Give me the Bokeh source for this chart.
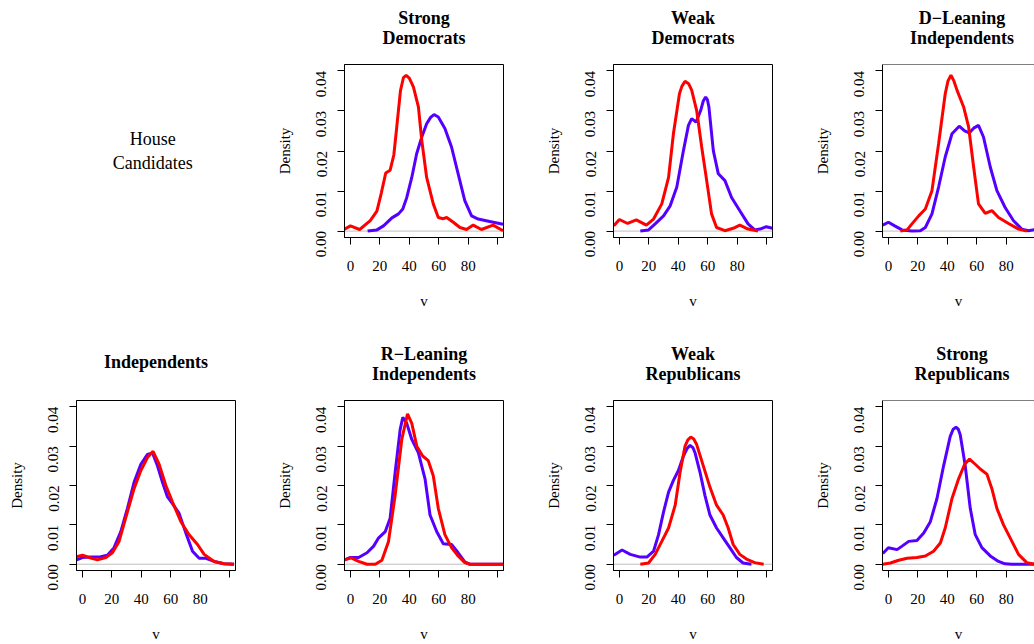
import math
from bokeh.plotting import figure
from bokeh.layouts import gridplot
from bokeh.models import FixedTicker, PrintfTickFormatter, Span
from bokeh.core.properties import value
from bokeh.embed import file_html
from bokeh.resources import INLINE

# ---------------- data ----------------
ROW_LABEL = "House\nCandidates"
TITLES = [["Strong", "Democrats"], ["Weak", "Democrats"], ["D\u2212Leaning", "Independents"],
          ["Independents"], ["R\u2212Leaning", "Independents"], ["Weak", "Republicans"],
          ["Strong", "Republicans"]]
X_LABEL = "v"
Y_LABEL = "Density"

X_TICKS = [0, 20, 40, 60, 80]
X_EXTRA_TICKS = [100]
Y_TICKS = [0.0, 0.01, 0.02, 0.03, 0.04]

# Strong Democrats
sd_blue_v = [11.7, 18, 22.5, 28.2, 32.7, 35.6, 38.3, 41.7, 45, 48.5, 51.8, 54.5, 56.8, 59.7, 64.2, 68.7, 73.2, 77.7, 82.3, 86.8, 94.6, 103.7]
sd_blue_d = [0, 0.0003, 0.0013, 0.0033, 0.0043, 0.0055, 0.0084, 0.0134, 0.0193, 0.0235, 0.0268, 0.0284, 0.0291, 0.0285, 0.0256, 0.021, 0.0143, 0.0076, 0.0038, 0.003, 0.0024, 0.0017]
sd_red_v = [-4, 0, 6.3, 13.5, 18, 21, 24, 27, 29.5, 31.5, 34, 36, 37.9, 40, 42.8, 46.2, 48.5, 51.8, 56.3, 59.7, 63.1, 65.4, 69.9, 74.4, 78.9, 83.4, 89, 96.9, 103.7]
sd_red_d = [0.0005, 0.0013, 0.0004, 0.0026, 0.005, 0.0095, 0.0145, 0.0152, 0.019, 0.026, 0.035, 0.0383, 0.0389, 0.0382, 0.036, 0.031, 0.0226, 0.0134, 0.0068, 0.0034, 0.0031, 0.0034, 0.0022, 0.0009, 0.0004, 0.0015, 0.0004, 0.0015, 0.0001]

# Weak Democrats
wd_blue_v = [14.2, 19.8, 24.3, 30, 34.5, 39, 43.5, 46.9, 49.1, 52.1, 55.2, 57, 58.6, 59.8, 60.8, 63.8, 67.2, 71.7, 76.2, 81.8, 87.4, 91.9, 95.5, 99.8, 104]
wd_blue_d = [0, 0.0003, 0.0018, 0.0038, 0.0063, 0.011, 0.0201, 0.0264, 0.0281, 0.0272, 0.0301, 0.0325, 0.0335, 0.0328, 0.031, 0.0201, 0.0143, 0.0126, 0.0084, 0.0051, 0.0018, 0.0003, 0.0005, 0.0011, 0.0007]
wd_red_v = [-3.8, 0, 5.6, 11.5, 18.3, 23.2, 28.8, 33.4, 36.7, 40.8, 42.5, 44.6, 47, 49.1, 52.5, 55.9, 59.3, 62.6, 66, 71.7, 77.3, 81.8, 87.4, 94.2]
wd_red_d = [0.0013, 0.0029, 0.0019, 0.0028, 0.0015, 0.003, 0.0068, 0.0134, 0.0243, 0.0343, 0.0362, 0.0374, 0.0368, 0.0352, 0.0301, 0.021, 0.0126, 0.0043, 0.0009, 0.0001, 0.0007, 0.0015, 0.0005, 0.0]

# D-Leaning Independents
dl_blue_v = [-3.8, 0, 4.3, 9.3, 16, 21.7, 25.1, 29.6, 34.1, 38.6, 43.2, 48.1, 51.8, 54.9, 57.9, 61.2, 64.6, 69.2, 73.7, 79.3, 85, 90.6, 95.1, 99.7]
dl_blue_d = [0.0015, 0.0022, 0.0013, 0.0003, 0.0, 0.0001, 0.0009, 0.0043, 0.011, 0.0185, 0.0243, 0.0262, 0.025, 0.0245, 0.0257, 0.0264, 0.0235, 0.016, 0.0101, 0.0059, 0.0026, 0.0005, 0.0001, 0.0004]
dl_red_v = [8.1, 12.7, 16, 20.6, 25.1, 29.6, 34.1, 38.6, 40.5, 42.5, 44.5, 46.6, 51.1, 54.5, 57.9, 61.2, 65.8, 70.3, 74.8, 81.6, 88.4, 94]
dl_red_d = [0.0, 0.0003, 0.0018, 0.0038, 0.0055, 0.0101, 0.0218, 0.0343, 0.0375, 0.0389, 0.0375, 0.0352, 0.031, 0.026, 0.016, 0.0068, 0.0044, 0.0051, 0.0034, 0.0019, 0.0005, 0.0]

# Independents
ind_blue_v = [-3.9, 0, 5.7, 12.5, 17, 21.5, 26.1, 30.6, 35.1, 39.7, 44.2, 47.6, 51, 54.4, 57.8, 61.2, 65.7, 70.3, 74.8, 79.3, 83.9, 89.5, 96.3, 103]
ind_blue_d = [0.0011, 0.0017, 0.0018, 0.0019, 0.0023, 0.0042, 0.0083, 0.0142, 0.0208, 0.0254, 0.0279, 0.0283, 0.025, 0.0208, 0.0171, 0.0154, 0.0129, 0.0079, 0.0033, 0.0015, 0.0015, 0.0007, 0.0001, 0.0]
ind_red_v = [-3.9, 0, 4.5, 10.2, 15.9, 20.4, 24.9, 30.6, 35.1, 39.7, 44.2, 48, 52.1, 56.7, 61.2, 66.9, 72.5, 78.2, 82.7, 89.5, 96.3, 103]
ind_red_d = [0.0019, 0.0023, 0.0017, 0.0011, 0.0017, 0.0029, 0.0058, 0.0133, 0.0192, 0.0238, 0.0271, 0.0287, 0.0254, 0.02, 0.0158, 0.0108, 0.0075, 0.005, 0.0025, 0.0007, 0.0001, 0.0]

# R-Leaning Independents
rl_blue_v = [-4, 0, 5.6, 11.3, 15.8, 19.2, 23.7, 27, 30.4, 33.8, 35.6, 38.3, 41.7, 46.2, 50.7, 54.1, 58.6, 63.1, 68.7, 73.2, 77.7, 81, 90, 103.7]
rl_blue_d = [0.0011, 0.0017, 0.0017, 0.0029, 0.0046, 0.0067, 0.0083, 0.0117, 0.0233, 0.0342, 0.0373, 0.0358, 0.0317, 0.0283, 0.0217, 0.0125, 0.0083, 0.0052, 0.005, 0.0029, 0.0006, 0.0, 0.0, 0.0]
rl_red_v = [-4, 0.5, 5.6, 11.3, 16.9, 21.4, 25.9, 30.4, 34.9, 38.8, 41.7, 45.1, 49.1, 52.9, 56.3, 59.7, 64.2, 68.7, 73.2, 77.7, 81.1, 90, 103.7]
rl_red_d = [0.0011, 0.0016, 0.0007, 0.0, 0.0, 0.001, 0.0058, 0.0175, 0.0317, 0.0382, 0.0358, 0.03, 0.0275, 0.0263, 0.0225, 0.0142, 0.0075, 0.0042, 0.0021, 0.0004, 0.0, 0.0, 0.0]

# Weak Republicans
wr_blue_v = [-3.8, 1.8, 7.4, 14.2, 18.7, 23.2, 26.6, 30, 33.4, 36.7, 40.1, 43.5, 46, 48, 50, 51.4, 54.8, 58.1, 61.5, 66, 70.5, 75, 79.5, 84, 89.7]
wr_blue_d = [0.0023, 0.0036, 0.0025, 0.0018, 0.0018, 0.0033, 0.0075, 0.0133, 0.0183, 0.0213, 0.0238, 0.0275, 0.0294, 0.0302, 0.0296, 0.0283, 0.0233, 0.0175, 0.0125, 0.0092, 0.0067, 0.0042, 0.0017, 0.0003, 0.0]
wr_red_v = [14.2, 19.8, 24.3, 28.8, 33.4, 37.9, 41.2, 44.6, 46.5, 48.5, 50.5, 52.5, 57, 61.5, 66, 70.5, 73.9, 77.3, 81.8, 86.3, 91.9, 98]
wr_red_d = [0.0, 0.0003, 0.0025, 0.0058, 0.0092, 0.015, 0.0233, 0.03, 0.0316, 0.0323, 0.0318, 0.0304, 0.025, 0.0196, 0.015, 0.0125, 0.0092, 0.005, 0.0025, 0.0013, 0.0004, 0.0]

# Strong Republicans
sr_blue_v = [-3.8, 0, 5.9, 9.3, 13.8, 19.4, 24, 28.5, 33, 37.5, 42, 44, 45.9, 47.5, 48.8, 52.2, 55.6, 59, 63.5, 69.2, 74.8, 79.3, 83.8, 99.5]
sr_blue_d = [0.0027, 0.0042, 0.0037, 0.0046, 0.0058, 0.006, 0.0079, 0.0108, 0.0167, 0.025, 0.0325, 0.0343, 0.0348, 0.0343, 0.0329, 0.025, 0.0142, 0.0075, 0.0042, 0.0021, 0.0007, 0.0001, 0.0, 0.0]
sr_red_v = [-3.8, 1.4, 7, 12.7, 19.4, 25.1, 30.7, 35.3, 38.6, 43.2, 47.7, 51.8, 55.1, 59, 62.4, 66.9, 70.3, 73.7, 78.2, 82.7, 88.4, 94, 99.7]
sr_red_d = [0.0, 0.0003, 0.001, 0.0015, 0.0017, 0.0021, 0.0033, 0.0054, 0.0092, 0.0167, 0.0217, 0.0254, 0.0267, 0.0254, 0.0242, 0.0229, 0.0192, 0.0142, 0.01, 0.0067, 0.0025, 0.0004, 0.0]

PANELS = [
    (sd_blue_v, sd_blue_d, sd_red_v, sd_red_d),
    (wd_blue_v, wd_blue_d, wd_red_v, wd_red_d),
    (dl_blue_v, dl_blue_d, dl_red_v, dl_red_d),
    (ind_blue_v, ind_blue_d, ind_red_v, ind_red_d),
    (rl_blue_v, rl_blue_d, rl_red_v, rl_red_d),
    (wr_blue_v, wr_blue_d, wr_red_v, wr_red_d),
    (sr_blue_v, sr_blue_d, sr_red_v, sr_red_d),
]

# ---------------- styling / layout ----------------
SERIF = "Liberation Serif"
BLUE = "#5500FF"
RED = "#FF0000"
COL_W = [268, 269, 269, 228]
HEAD_H = 62                   # header strip holding the panel title
TOP_PAD = 2                   # gap between header strip and frame top
BORDER_L = 76
FRAME_W = 159
FRAME_H = 173
BOTTOM_B = [99, 71]           # bottom border of each row's plot figure
X_LO, X_HI = -4.0, 104.0
Y_LO, Y_HI = -0.0016, 0.0416
TITLE_Y_2 = [45, 25]          # header-strip positions of two-line titles
TITLE_Y_1 = 36.5              # header-strip position of a one-line title


def col_geometry(col):
    w = COL_W[col]
    last = col == 3
    right_border = 0 if last else w - BORDER_L - FRAME_W
    x_hi = X_LO + (w - BORDER_L) * (X_HI - X_LO) / FRAME_W if last else X_HI
    return w, right_border, x_hi


def style_axes(p):
    for ax in (p.xaxis[0], p.yaxis[0]):
        ax.axis_line_color = "black"
        ax.major_tick_line_color = "black"
        ax.minor_tick_line_color = "black"
        ax.major_tick_in = 0
        ax.major_tick_out = 7
        ax.minor_tick_in = 0
        ax.minor_tick_out = 7
        ax.major_label_text_font = SERIF
        ax.major_label_text_font_size = "15px"
        ax.major_label_text_color = "black"
        ax.axis_label_text_font = SERIF
        ax.axis_label_text_font_size = "15px"
        ax.axis_label_text_font_style = "normal"
        ax.axis_label_text_color = "black"
    p.xaxis[0].ticker = FixedTicker(ticks=X_TICKS, minor_ticks=X_EXTRA_TICKS)
    p.xaxis[0].major_label_standoff = 16
    p.xaxis[0].axis_label = X_LABEL
    p.xaxis[0].axis_label_standoff = 19
    p.yaxis[0].ticker = FixedTicker(ticks=Y_TICKS, minor_ticks=[])
    p.yaxis[0].formatter = PrintfTickFormatter(format="%.2f")
    p.yaxis[0].major_label_orientation = math.pi / 2
    p.yaxis[0].major_label_standoff = 16
    p.yaxis[0].axis_label = Y_LABEL
    p.yaxis[0].axis_label_standoff = 16


def make_header(idx, col):
    w, right_border, x_hi = col_geometry(col)
    p = figure(width=w, height=HEAD_H, x_range=(X_LO, x_hi), y_range=(0, HEAD_H),
               x_axis_type=None, y_axis_type=None, title=None,
               output_backend="svg", toolbar_location=None,
               min_border_left=BORDER_L, min_border_right=right_border,
               min_border_top=0, min_border_bottom=0,
               background_fill_color="white", border_fill_color="white")
    p.outline_line_color = None
    p.xgrid.visible = False
    p.ygrid.visible = False
    if idx is None:
        return p
    xc = (X_LO + X_HI) / 2
    lines = TITLES[idx]
    ys = TITLE_Y_2 if len(lines) == 2 else [TITLE_Y_1]
    p.text(x=[xc] * len(lines), y=ys, text=lines, text_align="center", text_baseline="alphabetic",
           text_font=value(SERIF), text_font_size="18px", text_font_style="bold", text_color="black")
    return p


def make_panel(idx, col, row):
    bv, bd, rv, rd = PANELS[idx]
    w, right_border, x_hi = col_geometry(col)
    h = TOP_PAD + FRAME_H + BOTTOM_B[row]
    last = col == 3
    p = figure(width=w, height=h, x_range=(X_LO, x_hi), y_range=(Y_LO, Y_HI),
               output_backend="svg", toolbar_location=None, title=None,
               min_border_left=BORDER_L, min_border_right=right_border,
               min_border_top=TOP_PAD, min_border_bottom=BOTTOM_B[row],
               background_fill_color="white", border_fill_color="white")
    p.xgrid.visible = False
    p.ygrid.visible = False
    if last:
        p.outline_line_color = None
        p.add_layout(Span(location=Y_HI, dimension="width", line_color="black", line_width=1))
    else:
        p.outline_line_color = "black"
        p.outline_line_width = 1
        p.outline_line_alpha = 1.0
    p.add_layout(Span(location=0, dimension="width", line_color="#BEBEBE", line_width=1, level="underlay"))
    style_axes(p)
    p.line(bv, bd, line_color=BLUE, line_width=3)
    p.line(rv, rd, line_color=RED, line_width=3)
    return p


def make_label_panel():
    h = TOP_PAD + FRAME_H + BOTTOM_B[0]
    p = figure(width=COL_W[0], height=h, x_range=(0, 1), y_range=(0, 1),
               x_axis_type=None, y_axis_type=None, title=None,
               output_backend="svg", toolbar_location=None,
               min_border_left=BORDER_L, min_border_right=COL_W[0] - BORDER_L - FRAME_W,
               min_border_top=TOP_PAD, min_border_bottom=BOTTOM_B[0])
    p.outline_line_color = None
    p.xgrid.visible = False
    p.ygrid.visible = False
    p.text(x=[0.48], y=[0.5], text=[ROW_LABEL], text_align="center", text_baseline="middle",
           text_font=value(SERIF), text_font_size="18px", text_color="black")
    return p


rows = [
    [make_header(None, 0), make_header(0, 1), make_header(1, 2), make_header(2, 3)],
    [make_label_panel(), make_panel(0, 1, 0), make_panel(1, 2, 0), make_panel(2, 3, 0)],
    [make_header(3, 0), make_header(4, 1), make_header(5, 2), make_header(6, 3)],
    [make_panel(3, 0, 1), make_panel(4, 1, 1), make_panel(5, 2, 1), make_panel(6, 3, 1)],
]

layout = gridplot(rows, toolbar_location=None)

open("out.html", "w").write(file_html(layout, INLINE))
